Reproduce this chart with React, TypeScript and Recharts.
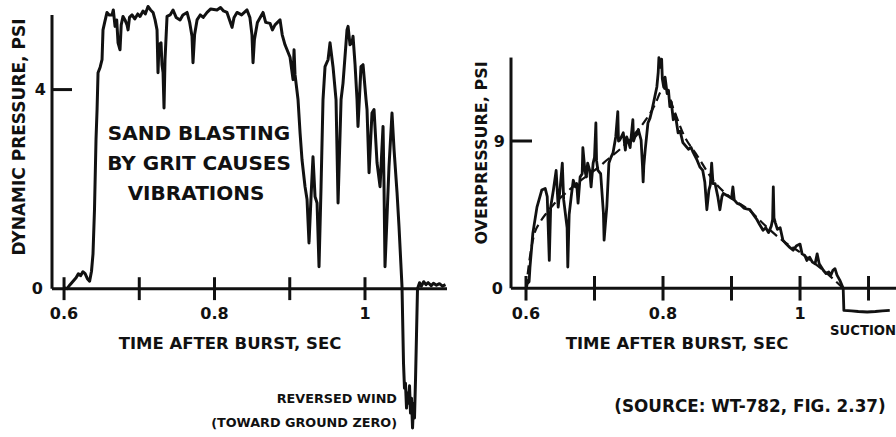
import React from 'react';
import { LineChart, Line, XAxis, YAxis, ReferenceLine } from 'recharts';

const FONT = '"DejaVu Sans", "Liberation Sans", sans-serif';
const INK = '#111';

// ---- Left panel: dynamic pressure (psi) vs time after burst (sec)
const dynTime = [
  0.600, 0.604, 0.608, 0.612, 0.616, 0.619, 0.622, 0.625, 0.628, 0.631, 0.634, 0.6365, 0.6385, 0.6405,
  0.6425, 0.6439, 0.6452, 0.648, 0.6505, 0.6518, 0.654, 0.6571, 0.660, 0.6638, 0.6655, 0.6678, 0.670,
  0.6718, 0.6744, 0.676, 0.6784, 0.681, 0.6837, 0.6851, 0.687, 0.6904, 0.694, 0.698, 0.701, 0.705,
  0.708, 0.7116, 0.715, 0.7183, 0.721, 0.7236, 0.7249, 0.7262, 0.7289, 0.7302, 0.7316, 0.7329, 0.7342,
  0.7369, 0.741, 0.7449, 0.749, 0.7542, 0.758, 0.7635, 0.767, 0.7701, 0.7714, 0.7735, 0.7768, 0.781,
  0.785, 0.7901, 0.795, 0.8033, 0.808, 0.812, 0.8166, 0.820, 0.8233, 0.826, 0.8299, 0.836, 0.8432,
  0.847, 0.8498, 0.8512, 0.853, 0.857, 0.8645, 0.868, 0.8738, 0.877, 0.8804, 0.8871, 0.890, 0.8937,
  0.8964, 0.9004, 0.9044, 0.9057, 0.907, 0.911, 0.9137, 0.9163, 0.9203, 0.923, 0.9256, 0.9283, 0.9309,
  0.9336, 0.9363, 0.9389, 0.9416, 0.9442, 0.9469, 0.9509, 0.9535, 0.9575, 0.9615, 0.9642, 0.9682,
  0.9708, 0.9761, 0.9775, 0.9801, 0.9828, 0.9841, 0.9868, 0.9894, 0.9907, 0.9947, 0.9974, 1.0014,
  1.0027, 1.0054, 1.0093, 1.012, 1.016, 1.020, 1.024, 1.0253, 1.0266, 1.0293, 1.0319, 1.0359, 1.0386,
  1.0426, 1.0452, 1.0492, 1.0512, 1.0525, 1.0538, 1.0552, 1.0565, 1.0578, 1.0592, 1.0605, 1.0618,
  1.0632, 1.0645, 1.0658, 1.0672, 1.0685, 1.0698, 1.0725, 1.075, 1.078, 1.081, 1.084, 1.088, 1.091,
  1.095, 1.099, 1.103, 1.107,
];
const dynPsi = [
  0.02, 0.0, 0.08, 0.15, 0.22, 0.3, 0.26, 0.34, 0.3, 0.2, 0.15, 0.35, 0.7, 1.6,
  3.0, 3.6, 4.34, 4.45, 4.6, 5.2, 5.35, 5.55, 5.5, 5.5, 5.6, 5.27, 5.4,
  4.94, 4.8, 5.3, 5.47, 5.4, 5.3, 5.2, 5.45, 5.5, 5.42, 5.52, 5.47, 5.58,
  5.52, 5.67, 5.6, 5.55, 5.4, 5.2, 4.34, 4.9, 4.94, 4.5, 4.34, 3.63, 4.6,
  5.47, 5.5, 5.6, 5.45, 5.4, 5.5, 5.55, 5.35, 5.07, 4.54, 5.1, 5.4, 5.5,
  5.45, 5.55, 5.62, 5.6, 5.65, 5.58, 5.55, 5.4, 5.25, 5.45, 5.55, 5.5, 5.6,
  5.45, 5.1, 4.54, 5.0, 5.35, 5.55, 5.35, 5.33, 5.2, 5.3, 5.4, 5.1, 4.9,
  4.8, 4.65, 4.2, 4.8, 4.3, 3.8, 3.13, 2.59, 2.05, 1.79, 0.92, 1.85, 2.65,
  1.85, 1.72, 0.44, 2.05, 3.8, 4.46, 4.6, 4.94, 4.46, 3.8, 1.72, 3.8,
  4.13, 5.2, 5.27, 4.9, 4.94, 5.07, 4.5, 3.8, 3.26, 4.46, 4.5, 3.8,
  3.6, 2.33, 3.53, 3.6, 2.53, 2.05, 3.26, 2.05, 0.44, 1.45, 2.45, 3.53, 2.8,
  1.93, 1.25, 0.04, -1.5, -2.0, -1.9, -2.4, -2.1, -2.3, -1.95, -2.5, -2.2,
  -2.8, -2.3, -2.6, -1.8, -0.9, 0.0, 0.12, 0.05, 0.14, 0.08, 0.12, 0.06, 0.11,
  0.07, 0.1, 0.05, 0.08,
];

// ---- Right panel: overpressure (psi) vs time after burst (sec)
const overTime = [
  0.600, 0.602, 0.6045, 0.6058, 0.610, 0.616, 0.623, 0.628, 0.631, 0.634, 0.636, 0.640, 0.644, 0.647,
  0.650, 0.653, 0.655, 0.660, 0.661, 0.663, 0.666, 0.669, 0.672, 0.674, 0.676, 0.679, 0.682, 0.683,
  0.686, 0.688, 0.690, 0.693, 0.695, 0.698, 0.700, 0.702, 0.703, 0.705, 0.709, 0.713, 0.714, 0.716,
  0.718, 0.721, 0.724, 0.727, 0.731, 0.734, 0.735, 0.737, 0.742, 0.745, 0.747, 0.750, 0.752, 0.756,
  0.757, 0.759, 0.762, 0.764, 0.768, 0.770, 0.771, 0.772, 0.774, 0.778, 0.781, 0.784, 0.788, 0.791,
  0.793, 0.794, 0.796, 0.798, 0.799, 0.801, 0.803, 0.806, 0.808, 0.810, 0.812, 0.815, 0.818, 0.822,
  0.825, 0.829, 0.833, 0.837, 0.841, 0.844, 0.849, 0.854, 0.858, 0.861, 0.864, 0.867, 0.869, 0.871,
  0.873, 0.876, 0.880, 0.883, 0.886, 0.888, 0.892, 0.896, 0.900, 0.902, 0.904, 0.908, 0.913, 0.918,
  0.922, 0.927, 0.932, 0.937, 0.941, 0.946, 0.950, 0.954, 0.958, 0.960, 0.961, 0.962, 0.964, 0.967,
  0.971, 0.975, 0.980, 0.985, 0.990, 0.995, 1.000, 1.003, 1.007, 1.010, 1.014, 1.018, 1.022, 1.025,
  1.028, 1.031, 1.034, 1.038, 1.042, 1.045, 1.048, 1.051, 1.054, 1.058, 1.062, 1.063, 1.064, 1.075,
  1.085, 1.098, 1.110, 1.120, 1.131,
];
const overPsi = [
  0.0, 0.3, 0.4, 1.29, 3.37, 4.96, 6.0, 6.1, 5.6, 1.7, 4.96, 6.0, 7.2, 4.96,
  6.2, 7.65, 5.4, 3.7, 1.3, 4.5, 5.6, 6.6, 6.2, 6.4, 5.2, 6.8, 7.0, 8.6,
  7.2, 6.8, 7.65, 7.2, 6.2, 7.65, 8.0, 10.1, 7.8, 7.2, 7.0, 4.6, 2.94, 4.0,
  5.0, 7.65, 8.0, 8.27, 9.25, 10.8, 9.0, 9.06, 9.5, 8.45, 9.25, 8.9, 8.6, 10.3,
  9.0, 9.25, 9.4, 9.7, 9.06, 7.5, 6.5, 7.5, 8.45, 10.1, 10.4, 10.9, 11.7, 12.3,
  13.2, 14.1, 13.5, 14.0, 12.8, 12.3, 12.9, 11.9, 12.1, 11.1, 11.4, 10.3, 10.6, 9.5,
  9.6, 8.9, 8.7, 8.5, 8.6, 8.3, 7.9, 7.4, 7.2, 6.5, 4.8, 6.0, 6.3, 7.65,
  6.4, 6.4, 5.6, 4.8, 5.6, 5.8, 5.7, 5.6, 5.5, 6.2, 5.4, 5.2, 5.1, 4.9,
  4.85, 4.8, 4.5, 4.2, 3.9, 3.55, 3.7, 3.4, 3.8, 4.2, 6.2, 4.3, 4.0, 3.6,
  3.7, 2.94, 2.7, 2.5, 2.33, 2.6, 2.7, 2.1, 2.0, 1.7, 1.9, 1.6, 1.5, 2.1,
  1.5, 1.3, 1.1, 0.9, 1.0, 0.8, 1.1, 1.2, 0.8, 0.5, 0.1, 0.0, -1.35, -1.38,
  -1.42, -1.45, -1.42, -1.38, -1.35,
];
// dashed smoothed fit
const fitTime = [
  0.600, 0.606, 0.612, 0.620, 0.630, 0.640, 0.660, 0.680, 0.700, 0.720, 0.740, 0.760, 0.775, 0.788,
  0.798, 0.803, 0.815, 0.830, 0.850, 0.875, 0.900, 0.925, 0.950, 0.975, 1.000, 1.025, 1.045, 1.063,
];
const fitPsi = [
  0.0, 2.0, 3.3, 4.0, 4.6, 5.1, 5.9, 6.6, 7.2, 7.9, 8.6, 9.5, 10.3, 11.2,
  12.1, 12.2, 11.0, 9.4, 8.1, 6.5, 5.5, 4.8, 3.8, 2.9, 2.2, 1.4, 0.7, 0.0,
];

// ---- axes
const leftXTicks = [0.6, 0.7, 0.8, 0.9, 1.0];
const leftXLabels = ['0.6', '', '0.8', '', '1'];
const rightXTicks = [0.6, 0.7, 0.8, 0.9, 1.0, 1.1];
const rightXLabels = ['0.6', '', '0.8', '', '1', ''];
const leftYTicks = [4];
const rightYTicks = [9];
const leftXDomain = [0.584, 1.109];
const leftYDomain = [-2.9, 5.8];
const rightXDomain = [0.5781, 1.1401];
const rightYDomain = [-2, 14.5];
const leftYAxisTop = 5.5;
const rightYAxisTop = 14.1;

const dynData = dynTime.map((t, i) => ({ t, v: dynPsi[i] }));
const overData = overTime.map((t, i) => ({ t, v: overPsi[i] }));
const fitData = fitTime.map((t, i) => ({ t, v: fitPsi[i] }));

const labelStyle = (size: number) => ({
  fill: INK,
  fontFamily: FONT,
  fontWeight: 700,
  fontSize: size,
});

const T = (p: any) => (
  <text
    fill={INK}
    fontFamily={FONT}
    fontWeight={700}
    {...p}
  />
);

export default function App() {
  const lTick = 0.23;
  const rTick = 0.75;
  const lYTickLen = 0.0266;
  const rYTickLen = 0.0307;
  return (
    <div style={{ position: 'absolute', left: 0, top: 0, width: 896, height: 437, background: '#fff', overflow: 'hidden' }}>
      <div style={{ position: 'absolute', left: 0, top: 0 }}>
        <LineChart width={450} height={437} data={dynData} margin={{ top: 0, right: 3, bottom: 4, left: 52 }}>
          <XAxis type="number" dataKey="t" domain={leftXDomain} hide allowDataOverflow />
          <YAxis type="number" dataKey="v" domain={leftYDomain} hide allowDataOverflow />
          <ReferenceLine y={0} stroke={INK} strokeWidth={3}
            label={{ value: '0', position: 'left', offset: 9, ...labelStyle(16) }} />
          <ReferenceLine segment={[{ x: leftXDomain[0], y: 0 }, { x: leftXDomain[0], y: leftYAxisTop }]} stroke={INK} strokeWidth={3} />
          {leftYTicks.map((v) => (
            <ReferenceLine key={'ly' + v} segment={[{ x: leftXDomain[0], y: v }, { x: leftXDomain[0] + lYTickLen, y: v }]}
              stroke={INK} strokeWidth={3}
              label={{ value: String(v), position: 'left', offset: 6, ...labelStyle(16) }} />
          ))}
          {leftXTicks.map((t, i) => (
            <ReferenceLine key={'lx' + t} segment={[{ x: t, y: -lTick }, { x: t, y: lTick }]}
              stroke={INK} strokeWidth={3}
              label={leftXLabels[i] ? { value: leftXLabels[i], position: 'bottom', offset: 8, ...labelStyle(16) } : undefined} />
          ))}
          <Line type="linear" dataKey="v" stroke={INK} strokeWidth={3} dot={false} isAnimationActive={false} strokeLinejoin="round" />
          <T transform="translate(25,137) rotate(-90)" textAnchor="middle" fontSize={17}>DYNAMIC PRESSURE, PSI</T>
          <T x={199} y={140} textAnchor="middle" fontSize={20}>SAND BLASTING</T>
          <T x={199} y={170} textAnchor="middle" fontSize={20}>BY GRIT CAUSES</T>
          <T x={196} y={200} textAnchor="middle" fontSize={20}>VIBRATIONS</T>
          <T x={230} y={349} textAnchor="middle" fontSize={16.5}>TIME AFTER BURST, SEC</T>
          <T x={397} y={403} textAnchor="end" fontSize={12.8}>REVERSED WIND</T>
          <T x={397} y={427} textAnchor="end" fontSize={12.8}>(TOWARD GROUND ZERO)</T>
        </LineChart>
      </div>
      <div style={{ position: 'absolute', left: 450, top: 0 }}>
        <LineChart width={446} height={437} margin={{ top: 51, right: 0, bottom: 116, left: 61 }}>
          <XAxis type="number" dataKey="t" domain={rightXDomain} hide allowDataOverflow />
          <YAxis type="number" dataKey="v" domain={rightYDomain} hide allowDataOverflow />
          <ReferenceLine y={0} stroke={INK} strokeWidth={3}
            label={{ value: '0', position: 'left', offset: 8, ...labelStyle(16) }} />
          <ReferenceLine segment={[{ x: rightXDomain[0], y: 0 }, { x: rightXDomain[0], y: rightYAxisTop }]} stroke={INK} strokeWidth={3} />
          {rightYTicks.map((v) => (
            <ReferenceLine key={'ry' + v} segment={[{ x: rightXDomain[0], y: v }, { x: rightXDomain[0] + rYTickLen, y: v }]}
              stroke={INK} strokeWidth={3}
              label={{ value: String(v), position: 'left', offset: 6, ...labelStyle(16) }} />
          ))}
          {rightXTicks.map((t, i) => (
            <ReferenceLine key={'rx' + t} segment={[{ x: t, y: -rTick }, { x: t, y: rTick }]}
              stroke={INK} strokeWidth={3}
              label={rightXLabels[i] ? { value: rightXLabels[i], position: 'bottom', offset: 7.5, ...labelStyle(16) } : undefined} />
          ))}
          <Line data={fitData} type="monotone" dataKey="v" stroke={INK} strokeWidth={2.2} strokeDasharray="9 5" dot={false} isAnimationActive={false} />
          <Line data={overData} type="linear" dataKey="v" stroke={INK} strokeWidth={2.8} dot={false} isAnimationActive={false} strokeLinejoin="round" />
          <T transform="translate(37,153) rotate(-90)" textAnchor="middle" fontSize={16}>OVERPRESSURE, PSI</T>
          <T x={227} y={349} textAnchor="middle" fontSize={16.5}>TIME AFTER BURST, SEC</T>
          <T x={380} y={335} textAnchor="start" fontSize={13.2}>SUCTION</T>
          <T x={300} y={412} textAnchor="middle" fontSize={16.8}>(SOURCE: WT-782, FIG. 2.37)</T>
        </LineChart>
      </div>
    </div>
  );
}
